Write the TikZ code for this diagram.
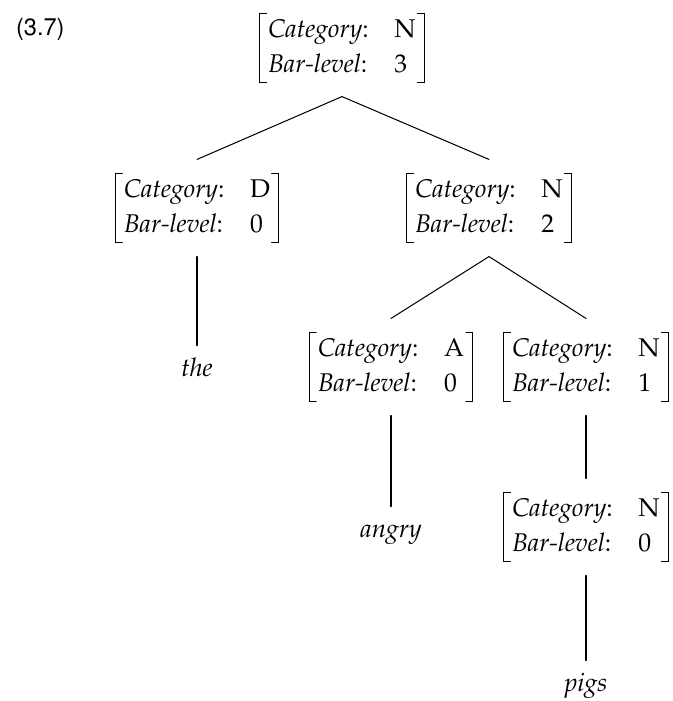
\documentclass[tikz,border=0pt]{standalone}
\usepackage[T1]{fontenc}
\usepackage{amsmath}
\usepackage{mathpazo}
\usepackage[scaled=0.92]{helvet}
\usepackage{tikz}

\newcommand{\featbox}[2]{$\renewcommand{\arraystretch}{1.12}%
\begin{array}{@{}l@{\hspace{1em}}l@{}}
  \text{\textit{Category}:} & \mathrm{#1}\\
  \text{\textit{Bar-level}:} & #2
\end{array}$}

\begin{document}
\begin{tikzpicture}[x=0.39pt,y=-0.39pt,line cap=round,
  fs/.style={inner xsep=3.5pt,inner ysep=0pt,outer sep=0pt},
  word/.style={inner sep=0pt,font=\itshape,text height=1.6ex,text depth=.3ex}]
\useasboundingbox (0,0) rectangle (673,701);
\node[anchor=north west,font=\sffamily] (exno) at (7,9) {(3.7)};
\node[fs] (n3) at (342,48) {\featbox{N}{3}};
\node[fs] (d0) at (197,208) {\featbox{D}{0}};
\node[fs] (n2) at (489,208) {\featbox{N}{2}};
\node[fs] (a0) at (391,367) {\featbox{A}{0}};
\node[fs] (n1) at (586,367) {\featbox{N}{1}};
\node[fs] (n0) at (586,527) {\featbox{N}{0}};
\node[word] (the) at (197,369) {the};
\node[word] (angry) at (391,530) {angry};
\node[word] (pigs) at (586,684) {pigs};
% square brackets round each feature structure
\foreach \n in {n3,d0,n2,a0,n1,n0}
  \draw ([xshift=2.8pt]\n.north west) -| (\n.south west) -- ++(2.8pt,0)
        ([xshift=-2.8pt]\n.north east) -| (\n.south east) -- ++(-2.8pt,0);
% branches
\draw ([yshift=-5.5pt]n3.south) -- ([yshift=5.5pt]d0.north);
\draw ([yshift=-5.5pt]n3.south) -- ([yshift=5.5pt]n2.north);
\draw ([yshift=-5.5pt]d0.south) -- ([yshift=4.5pt]the.north);
\draw ([yshift=-5.5pt]n2.south) -- ([yshift=5.5pt]a0.north);
\draw ([yshift=-5.5pt]n2.south) -- ([yshift=5.5pt]n1.north);
\draw ([yshift=-5.5pt]a0.south) -- ([yshift=4.5pt]angry.north);
\draw ([yshift=-5.5pt]n1.south) -- ([yshift=5.5pt]n0.north);
\draw ([yshift=-5.5pt]n0.south) -- ([yshift=4.5pt]pigs.north);
\end{tikzpicture}
\end{document}
